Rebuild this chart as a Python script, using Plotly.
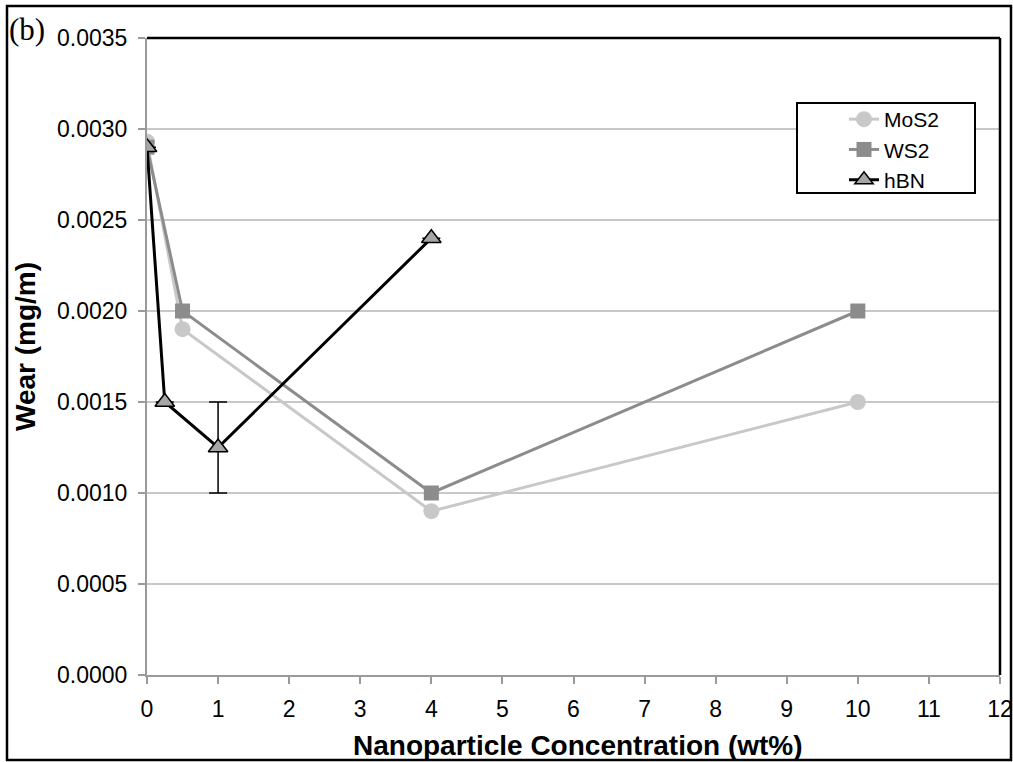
import plotly.graph_objects as go

# Data
mos2_x = [0, 0.5, 4, 10]
mos2_y = [0.00293, 0.0019, 0.0009, 0.0015]
ws2_x = [0, 0.5, 4, 10]
ws2_y = [0.0029, 0.0020, 0.0010, 0.0020]
hbn_x = [0, 0.25, 1, 4]
hbn_y = [0.0029, 0.0015, 0.00125, 0.0024]
hbn_err = [0, 0, 0.00025, 0]

FONT = "Liberation Sans, Arial, sans-serif"

fig = go.Figure()
fig.add_trace(go.Scatter(
    x=mos2_x, y=mos2_y, name="MoS2", mode="lines+markers",
    line=dict(color="#c8c8c8", width=3),
    marker=dict(symbol="circle", size=16, color="#c8c8c8"),
))
fig.add_trace(go.Scatter(
    x=ws2_x, y=ws2_y, name="WS2", mode="lines+markers",
    line=dict(color="#8c8c8c", width=3),
    marker=dict(symbol="square", size=15, color="#8c8c8c"),
))
fig.add_trace(go.Scatter(
    x=hbn_x, y=hbn_y, name="hBN", mode="lines+markers",
    line=dict(color="#000000", width=3),
    marker=dict(symbol="triangle-up", size=17, color="#a6a6a6",
                line=dict(color="#000000", width=1.5)),
    error_y=dict(type="data", array=hbn_err, visible=True,
                 color="#000000", thickness=1.5, width=9),
))

pw, ph = 853.0, 637.0
def px(x):
    return (x - 147) / pw
def py(y):
    return (675 - y) / ph

fig.update_layout(
    template="none",
    width=1013, height=762, autosize=False,
    margin=dict(l=147, r=13, t=38, b=87, pad=0),
    paper_bgcolor="white", plot_bgcolor="white",
    font=dict(family=FONT, color="#000000"),
    showlegend=True,
    legend=dict(
        x=px(844), y=py(99), xanchor="left", yanchor="top",
        bgcolor="rgba(0,0,0,0)", borderwidth=0,
        font=dict(size=21, family=FONT),
        itemwidth=30,
    ),
)

fig.update_xaxes(
    range=[0, 12], dtick=1, tick0=0, automargin=False,
    showgrid=False, zeroline=False,
    showline=True, linecolor="#9a9a9a", linewidth=2,
    ticks="outside", ticklen=7, tickwidth=1.5, tickcolor="#9a9a9a",
    tickfont=dict(size=23, family=FONT, color="#000000"),
    ticklabelstandoff=5,
)
fig.update_yaxes(
    range=[0, 0.0035], dtick=0.0005, tick0=0, tickformat=".4f", automargin=False,
    showgrid=True, gridcolor="#c8c8c8", gridwidth=2,
    zeroline=False,
    showline=True, linecolor="#9a9a9a", linewidth=2,
    ticks="outside", ticklen=7, tickwidth=1.5, tickcolor="#9a9a9a",
    tickfont=dict(size=23, family=FONT, color="#000000"),
    ticklabelstandoff=6,
)

# plot-area top/right border
fig.add_shape(type="line", xref="paper", yref="paper", x0=0, x1=1, y0=1, y1=1,
              line=dict(color="#000000", width=2.5), layer="above")
fig.add_shape(type="line", xref="paper", yref="paper", x0=1, x1=1, y0=0, y1=1,
              line=dict(color="#000000", width=2.5), layer="above")

# legend box
fig.add_shape(type="rect", xref="paper", yref="paper",
              x0=px(797), x1=px(975), y0=py(193), y1=py(103),
              line=dict(color="#000000", width=2), fillcolor="white", layer="above")

# outer frame
fig.add_shape(type="rect", xref="paper", yref="paper",
              x0=px(7), x1=px(1011), y0=py(760), y1=py(6),
              line=dict(color="#000000", width=2.5), layer="above")

# axis titles
fig.add_annotation(text="<b>Nanoparticle Concentration (wt%)</b>", xref="paper", yref="paper",
                   x=px(578), y=py(745), showarrow=False,
                   font=dict(size=28, family=FONT), xanchor="center", yanchor="middle")
fig.add_annotation(text="<b>Wear (mg/m)</b>", xref="paper", yref="paper",
                   x=px(25), y=py(347), showarrow=False, textangle=-90,
                   font=dict(size=28, family=FONT), xanchor="center", yanchor="middle")
fig.add_annotation(text="(b)", xref="paper", yref="paper",
                   x=px(7), y=py(30), showarrow=False,
                   font=dict(size=31, family="Liberation Serif, Times New Roman, serif"),
                   xanchor="left", yanchor="middle")

fig.write_html("out.html", config={"responsive": False})
